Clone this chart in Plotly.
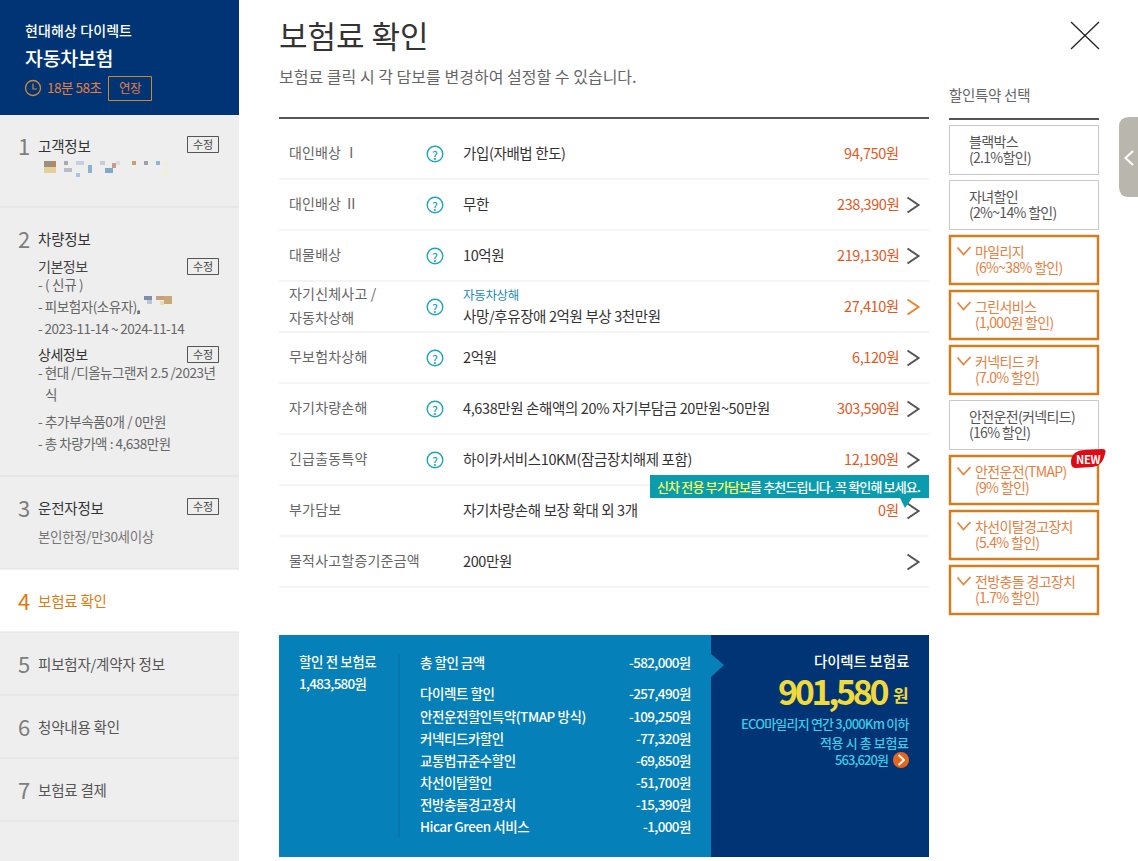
import plotly.graph_objects as go

FONT = "Noto Sans CJK KR"
NAVY = "#003474"
BLUE = "#0680b8"
TEAL = "#0a9cae"
SIDE = "#eeeeee"
ORANGE = "#cf7f1f"
ORANGE_TXT = "#e57f3f"
RED_TXT = "#e05a1f"

# coverage table
row_names = ["대인배상 Ⅰ", "대인배상 Ⅱ", "대물배상", None, "무보험차상해", "자기차량손해",
             "긴급출동특약", "부가담보", "물적사고할증기준금액"]
row_values = ["가입(자배법 한도)", "무한", "10억원", None, "2억원",
              "4,638만원 손해액의 20% 자기부담금 20만원~50만원",
              "하이카서비스10KM(잠금장치해제 포함)", "자기차량손해 보장 확대 외 3개", "200만원"]
row_amounts = ["94,750원", "238,390원", "219,130원", "27,410원", "6,120원", "303,590원",
               "12,190원", "0원", ""]

# discount options on the right
option_lines1 = ["블랙박스", "자녀할인", "마일리지", "그린서비스", "커넥티드 카", "안전운전(커넥티드)",
                 "안전운전(TMAP)", "차선이탈경고장치", "전방충돌 경고장치"]
option_lines2 = ["(2.1%할인)", "(2%~14% 할인)", "(6%~38% 할인)", "(1,000원 할인)", "(7.0% 할인)",
                 "(16% 할인)", "(9% 할인)", "(5.4% 할인)", "(1.7% 할인)"]
option_on = [False, False, True, True, True, False, True, True, True]

# discount summary
discount_names = ["다이렉트 할인", "안전운전할인특약(TMAP 방식)", "커넥티드카할인", "교통법규준수할인",
                  "차선이탈할인", "전방충돌경고장치", "Hicar Green 서비스"]
discount_values = ["-257,490원", "-109,250원", "-77,320원", "-69,850원", "-51,700원", "-15,390원", "-1,000원"]

# sidebar
step_names = ["고객정보", "차량정보", "운전자정보"]
step_labels = ["보험료 확인", "피보험자/계약자 정보", "청약내용 확인", "보험료 결제"]

shapes = []
annotations = []
CLEAR = "rgba(0,0,0,0)"


def rect(x0, y0, x1, y1, fill=None, line=None, width=1):
    shapes.append(dict(type="rect", x0=x0, y0=y0, x1=x1, y1=y1, fillcolor=fill or CLEAR,
                       line=dict(color=line or CLEAR, width=width if line else 0)))


def hline(x0, x1, y, color, width=1):
    shapes.append(dict(type="line", x0=x0, x1=x1, y0=y, y1=y, line=dict(color=color, width=width)))


def path(d, fill=None, line=None, width=1.5):
    shapes.append(dict(type="path", path=d, fillcolor=fill or CLEAR,
                       line=dict(color=line or CLEAR, width=width if line else 0)))


def circle(cx, cy, r, fill=None, line=None, width=1.3):
    shapes.append(dict(type="circle", x0=cx - r, x1=cx + r, y0=cy - r, y1=cy + r, fillcolor=fill or CLEAR,
                       line=dict(color=line or CLEAR, width=width if line else 0)))


def text(x, y, s, size=14, color="#333333", anchor="left", weight=400, sp=-0.5):
    annotations.append(dict(x=x, y=y - 1, xref="x", yref="y", showarrow=False, xanchor=anchor, yanchor="middle",
                            align=anchor, borderpad=0, borderwidth=0,
                            text='<span style="letter-spacing:%spx">%s</span>' % (sp, s),
                            font=dict(family=FONT, size=size, color=color, weight=weight)))


def chevron(x, y, color="#555555", w=5.5, h=7.5, width=2):
    path(f"M {x - w} {y - h} L {x + w} {y} L {x - w} {y + h}", line=color, width=width)


# sidebar
rect(0, 115, 239, 569, fill=SIDE)
rect(0, 632, 239, 861, fill=SIDE)
rect(0, 0, 239, 115, fill=NAVY)
for y in [207, 476, 569, 632, 695, 758, 821]:
    hline(0, 239, y, "#e0e0e0")

text(25, 31, "현대해상 다이렉트", 14, "#ffffff", weight=500, sp=0.1)
text(25, 58, "자동차보험", 19.5, "#ffffff", weight=500, sp=-0.3)
circle(33, 88, 7.5, line="#d08a3c")
path("M 33 83.5 L 33 89 L 37 89", line="#d08a3c", width=1.2)
text(47, 88, "18분 58초", 13.5, ORANGE_TXT, sp=-0.5)
rect(108.5, 76.5, 151.5, 100.5, line="#c98a2e", width=1)
text(130, 88, "연장", 12.5, ORANGE_TXT, "center", sp=-0.4)

step_y = [146, 239, 508]
for i in range(3):
    text(18, step_y[i], str(i + 1), 22, "#7d7d7d", sp=0)
    text(38, step_y[i], step_names[i], 14.5, "#333333", sp=-0.2)
for i in range(4):
    text(18, 601 + 63 * i, str(i + 4), 22, "#e07a10" if i == 0 else "#7d7d7d", sp=0)
    text(38, 601 + 63 * i, step_labels[i], 14.5, "#e07a10" if i == 0 else "#555555", sp=-0.2)

for y in [136, 258, 346, 498]:
    rect(187.5, y + 0.5, 218.5, y + 16.5, line="#555555")
    text(203, y + 8.5, "수정", 11, "#444444", "center", sp=-0.2)

text(38, 267, "기본정보", 14, "#444444", sp=-0.5)
text(38, 355, "상세정보", 14, "#333333", sp=-0.5)
text(38, 285, "- ( 신규 )", 13.5, "#666666", sp=-0.3)
text(38, 307, "- 피보험자(소유자),", 13.5, "#666666", sp=-0.45)
text(38, 329, "- 2023-11-14 ~ 2024-11-14", 13.5, "#666666", sp=-0.55)
text(38, 373, "- 현대 /디올뉴그랜저 2.5 /2023년", 13.5, "#666666", sp=-0.45)
text(45, 395, "식", 13.5, "#666666")
text(38, 422, "- 추가부속품0개 / 0만원", 13.5, "#666666", sp=-0.35)
text(38, 444, "- 총 차량가액 : 4,638만원", 13.5, "#666666", sp=-0.47)
text(38, 537, "본인한정/만30세이상", 13.5, "#777777", sp=-0.35)

# blurred-out pixels over the masked name and owner
blur_spots = [(44, 161, 8, 6, "#9a8f80"), (44, 167, 12, 6, "#e6cf9a"), (52, 161, 4, 6, "#b08a60"),
              (64, 161, 4, 4, "#a9a9b0"), (64, 168, 8, 4, "#b9bcc4"), (76, 161, 8, 4, "#c4d0e0"),
              (88, 165, 4, 8, "#8fb0d0"), (76, 173, 4, 4, "#a9c4e0"), (100, 161, 5, 4, "#c8ccd0"),
              (105, 168, 8, 5, "#7fa9c4"), (112, 163, 4, 5, "#c89a90"), (116, 161, 4, 4, "#d8dde4"),
              (132, 161, 4, 4, "#c8a070"), (144, 161, 4, 4, "#a0a0a8"), (156, 161, 4, 4, "#90b4dc"),
              (163, 161, 5, 5, "#f2efd8"), (163, 170, 5, 6, "#f2efd8"), (137, 311, 3, 3, "#909090"),
              (144, 296, 8, 4, "#7f8fa8"), (147, 300, 5, 4, "#b9c4d4"), (156, 296, 8, 4, "#c4a07c"),
              (164, 296, 8, 8, "#c8a878"), (160, 301, 4, 4, "#ecd9b8")]
for x, y, w, h, c in blur_spots:
    rect(x, y, x + w, y + h, fill=c)

# title block
text(279, 35, "보험료 확인", 31, "#333333", sp=0)
text(279, 77, "보험료 클릭 시 각 담보를 변경하여 설정할 수 있습니다.", 16, "#666666", sp=0.02)
hline(279, 929, 118, "#555555", 2)

# coverage rows
for i in range(9):
    y = 153 + 51 * i
    if i > 0:
        hline(279, 929, 128 + 51 * i, "#e9e9e9")
    if row_names[i]:
        text(289, y, row_names[i], 14, "#666666", sp=0.1 if i < 2 else 0.2)
    if row_values[i]:
        text(463, y, row_values[i], 14.5, "#333333", sp=-0.38)
    if row_amounts[i]:
        text(899, y, row_amounts[i], 14.5, RED_TXT, "right", sp=-0.4)
    if i < 7:
        circle(435, y + 1, 7.8, line="#1aa5b8", width=1.4)
        text(435, y + 2, "?", 12, "#1aa5b8", "center", weight=500, sp=0)
    if i > 0:
        chevron(913, y + 1, "#e8842c" if i == 3 else "#555555")
hline(279, 929, 587, "#e9e9e9")

text(289, 294, "자기신체사고 /", 14, "#666666", sp=0.2)
text(289, 318, "자동차상해", 14, "#666666", sp=0.2)
text(463, 295, "자동차상해", 12.5, "#1a8ab8", sp=-0.3)
text(463, 316, "사망/후유장애 2억원 부상 3천만원", 14.5, "#333333", sp=-0.38)

# tooltip over row 8
rect(650, 475, 929, 498, fill=TEAL)
path("M 900 498 L 912 498 L 905 508 Z", fill=TEAL)
text(657, 487, '<span style="fill:#f6ff5a">신차 전용 부가담보</span>를 추천드립니다. 꼭 확인해 보세요.',
     13, "#ffffff", weight=500, sp=-0.85)

# close button
path("M 1071 22 L 1099 49", line="#222222", width=1.3)
path("M 1099 22 L 1071 49", line="#222222", width=1.3)

# discount options
text(949, 95, "할인특약 선택", 14.5, "#666666", sp=-0.3)
hline(949, 1099, 119, "#555555", 2)
for i in range(9):
    y = 125 + 55 * i
    if option_on[i]:
        rect(950, y + 1, 1098, y + 49, fill="#ffffff", line=ORANGE, width=2.5)
        path(f"M 957.5 {y + 12.5} L 963.5 {y + 19.5} L 970.5 {y + 12}", line="#e8843c", width=1.8)
        text(975, y + 17, option_lines1[i], 14, ORANGE_TXT, sp=-0.65)
        text(975, y + 33, option_lines2[i], 14, ORANGE_TXT, sp=-0.7)
    else:
        rect(949.5, y + 0.5, 1098.5, y + 49.5, fill="#ffffff", line="#c9c9c9", width=1)
        text(969, y + 17, option_lines1[i], 14, "#555555", sp=-0.65)
        text(969, y + 33, option_lines2[i], 14, "#555555", sp=-0.7)

# NEW badge and side tab
path("M 1071 462 C 1071 454 1077 450 1085 450 L 1102 449 Q 1107 449 1105 454 "
     "C 1103 462 1100 466 1092 467 L 1076 468 Q 1071 468 1071 462 Z", fill="#e00a14")
text(1088, 460, "NEW", 11, "#ffffff", "center", weight=700, sp=-0.3)
path("M 1138 117 L 1129 117 Q 1119 117 1119 127 L 1119 187 Q 1119 197 1129 197 L 1138 197 Z", fill="#b9b6ae")
path("M 1133 151 L 1125.5 158 L 1133 165", line="#ffffff", width=2)

# summary panel
rect(279, 635, 711, 857, fill=BLUE)
rect(711, 635, 929, 857, fill=NAVY)
path("M 711 654 L 724 665 L 711 677 Z", fill=BLUE)
shapes.append(dict(type="line", x0=399, x1=399, y0=654, y1=837, line=dict(color="#0a6fa4", width=1)))
text(299, 662, "할인 전 보험료", 13.5, "#ffffff", weight=500, sp=-0.4)
text(299, 684, "1,483,580원", 13.5, "#ffffff", weight=500, sp=-0.7)
text(420, 663, "총 할인 금액", 13.5, "#ffffff", weight=500, sp=-0.5)
text(691, 663, "-582,000원", 13.5, "#ffffff", "right", weight=500, sp=-0.65)
for i in range(7):
    y = 694 + 22 * i + (1 if i else 0)
    text(420, y, discount_names[i], 13.5, "#ffffff", weight=500, sp=-0.45)
    text(691, y, discount_values[i], 13.5, "#ffffff", "right", weight=500, sp=-0.62)

text(909, 661, "다이렉트 보험료", 14.5, "#ffffff", "right", weight=500, sp=-0.2)
text(889, 691, "901,580", 34, "#f0d93a", "right", weight=700, sp=-3.3)
text(909, 695, "원", 17, "#f0d93a", "right", weight=700, sp=0)
text(909, 724, "ECO마일리지 연간 3,000Km 이하", 13, "#3ccbe8", "right", weight=500, sp=-0.8)
text(909, 743, "적용 시 총 보험료", 13, "#3ccbe8", "right", weight=500, sp=-0.4)
text(888, 760, "563,620원", 13, "#3ccbe8", "right", weight=500, sp=-0.9)
circle(901, 760, 8, fill="#e8641a")
path("M 898.5 755 L 904 760 L 898.5 765", line="#ffffff", width=2)

fig = go.Figure()
fig.update_layout(
    width=1138, height=861, margin=dict(l=0, r=0, t=0, b=0, pad=0),
    paper_bgcolor="#ffffff", plot_bgcolor="#ffffff", showlegend=False,
    xaxis=dict(range=[0, 1138], visible=False, fixedrange=True),
    yaxis=dict(range=[861, 0], visible=False, fixedrange=True),
    shapes=shapes, annotations=annotations,
)

fig.write_html("out.html", config=dict(displayModeBar=False),
               post_script="document.body.style.margin='0';document.body.style.overflow='hidden';")
